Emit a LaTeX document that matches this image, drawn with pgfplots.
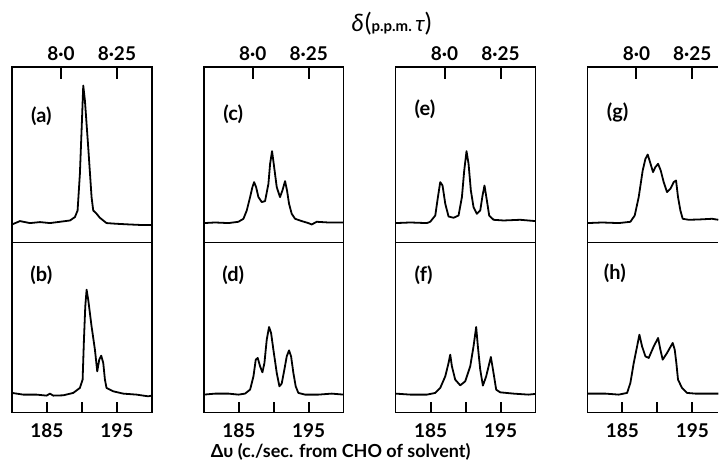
\documentclass[border=0pt]{standalone}
\usepackage{pgfplots}
\pgfplotsset{compat=1.18}
\usepackage{fontspec}
\setmainfont{Lato}
\tikzset{plab/.style={font=\fontsize{20}{22}\selectfont\bfseries},
  spec/.style={black, line width=1.8pt, line join=round, mark=none},
  tk/.style={black, line width=2pt}}
\pgfplotsset{
 panel/.style={scale only axis, width=140pt, xmin=180, xmax=200, ymin=0,
   ytick=\empty, axis line style={line width=1.4pt},
   tick style={line width=2pt, black}, major tick length=11pt,
   tick align=inside,
   tick label style={font=\fontsize{19}{21}\selectfont\bfseries}},
 upper/.style={panel, height=176pt, ymax=176, xtick={187,195},
   xticklabels={8·0,8·25}, xtick pos=top, xticklabel pos=top,
   xticklabel style={yshift=3pt}},
 lower/.style={panel, height=170pt, ymax=170, xtick={185,190,195},
   xticklabels={185,,195}, xtick pos=bottom, xticklabel pos=bottom,
   xticklabel style={yshift=-7pt}},
 cut/.style={width=131pt, xmax=198.71, axis y line*=left},
}
\begin{document}
\begin{tikzpicture}
\path (0,0) rectangle (719pt,464pt);
% ---------- column 1 ----------
\begin{axis}[upper, at={(12pt,221pt)}, anchor=south west]
\addplot[spec] coordinates {(180.0,18.3)(181.14,21.7)(182.57,19.7)(184.0,20.7)(185.43,19.7)(186.86,21.0)(188.29,22.3)(189.0,25.7)(189.38,32.3)(189.71,69)(189.95,112.3)(190.19,157.3)(190.43,142.3)(190.90,95.7)(191.38,45.7)(191.62,32.3)(192.10,29)(192.57,25)(193.52,19.7)(194.95,19)(196.86,18.3)(198.76,17.7)(200,17.7)};
\node[plab] at (rel axis cs:0.21,0.72) {(a)};
\end{axis}
\begin{axis}[lower, at={(12pt,51pt)}, anchor=south west]
\addplot[spec] coordinates {(180.0,19.7)(181.62,18)(183.52,18)(184.95,17)(185.43,19)(185.90,17)(187.33,17.3)(188.76,19.7)(189.71,24.7)(190.10,33)(190.29,73)(190.48,106.3)(190.67,123)(190.90,113)(191.38,86.3)(191.86,63)(192.19,41.3)(192.48,53)(192.76,57)(193.05,49.7)(193.29,33)(193.52,24.7)(194.48,21.3)(195.90,19)(197.81,18)(199.48,16.3)(200,17)};
\node[plab] at (rel axis cs:0.21,0.81) {(b)};
\end{axis}
% ---------- column 2 ----------
\begin{axis}[upper, at={(204pt,221pt)}, anchor=south west]
\addplot[spec] coordinates {(180.0,19.7)(181.62,20.3)(183.52,19.7)(184.95,21)(185.67,24)(186.14,32.3)(186.62,45.7)(186.95,55.7)(187.19,60.7)(187.48,55.7)(187.81,45.7)(188.29,40.7)(188.76,41.7)(189.24,59)(189.48,79)(189.76,91.7)(190.0,79)(190.43,55.7)(190.90,45.7)(191.24,52.3)(191.62,61.7)(191.90,52.3)(192.19,39)(192.57,29)(193.05,24)(194.0,21.7)(194.95,19.7)(195.43,18.3)(196.14,21)(197.81,20.3)(200,20.3)};
\node[plab] at (rel axis cs:0.21,0.73) {(c)};
\end{axis}
\begin{axis}[lower, at={(204pt,51pt)}, anchor=south west]
\addplot[spec] coordinates {(180.0,18)(181.62,19)(183.52,19)(184.95,18)(185.90,19)(186.62,23)(187.10,36.3)(187.43,53)(187.71,54.7)(188.05,46.3)(188.38,40.3)(188.67,49.7)(189.0,73)(189.33,85.7)(189.62,79.7)(189.95,63)(190.43,39.7)(190.81,26.3)(191.14,29)(191.52,43)(191.86,56.3)(192.19,62.3)(192.48,56.3)(192.81,39.7)(193.14,26.3)(193.52,19.7)(194.48,18)(196.38,18)(198.29,19)(200,18)};
\node[plab] at (rel axis cs:0.21,0.81) {(d)};
\end{axis}
% ---------- column 3 ----------
\begin{axis}[upper, at={(396pt,221pt)}, anchor=south west]
\addplot[spec] coordinates {(180.0,19.7)(182.10,20.3)(184.48,19.7)(184.95,21)(185.67,27.3)(186.05,45.7)(186.38,60.7)(186.71,57.3)(187.10,39)(187.57,26.3)(188.29,25)(189.0,27.3)(189.48,45.7)(189.81,72.3)(190.14,91.7)(190.43,79)(190.76,52.3)(191.14,35.7)(191.62,29)(192.10,32.3)(192.43,47.3)(192.71,57.3)(193.05,42.3)(193.38,27.3)(194.0,23)(195.43,22.3)(197.81,23)(200,21.7)};
\node[plab] at (rel axis cs:0.21,0.76) {(e)};
\end{axis}
\begin{axis}[lower, at={(396pt,51pt)}, anchor=south west]
\addplot[spec] coordinates {(180.0,19)(182.10,18)(184.48,18)(185.67,19.7)(186.38,24.7)(187.10,36.3)(187.57,49.7)(187.81,58)(188.05,46.3)(188.52,33)(189.24,27.3)(189.95,31.3)(190.67,46.3)(191.14,66.3)(191.52,85.7)(191.76,66.3)(192.10,43)(192.48,27)(192.95,36.3)(193.62,55.7)(194.0,39.7)(194.38,23)(194.95,20.3)(196.86,19)(199.0,18)(200,18.7)};
\node[plab] at (rel axis cs:0.2,0.81) {(f)};
\end{axis}
% ---------- column 4 (cut off at right edge) ----------
\begin{axis}[upper, cut, at={(588pt,221pt)}, anchor=south west]
\addplot[spec] coordinates {(180.0,19.7)(182.10,20.3)(184.48,19.7)(186.14,21)(186.76,27.3)(187.33,45.7)(187.90,72.3)(188.29,84)(188.62,88.3)(188.95,80.7)(189.38,70.7)(189.71,75.7)(190.10,79)(190.48,72.3)(190.90,60.7)(191.38,50.7)(191.86,54)(192.33,60.7)(192.67,62.3)(192.95,45.7)(193.29,32.3)(193.62,24)(194.48,23)(195.90,23.3)(197.81,24)(198.71,23)};
\node[plab] at (rel axis cs:0.23,0.74) {(g)};
\end{axis}
\begin{axis}[lower, cut, at={(588pt,51pt)}, anchor=south west]
\addplot[spec] coordinates {(180.0,19)(182.57,19)(184.48,18)(185.67,19.7)(186.14,29.7)(186.62,49.7)(187.10,66.3)(187.43,78)(187.81,66.3)(188.29,56.3)(188.76,54.7)(189.48,66.3)(190.10,74.7)(190.43,63)(190.76,53)(191.38,59.7)(192.19,69.7)(192.48,63)(192.71,49.7)(192.95,33)(193.52,24.7)(194.24,19.7)(195.43,19)(196.86,19)(198.71,19)};
\node[plab] at (rel axis cs:0.21,0.82) {(h)};
\end{axis}
% ---------- inward tick marks on the frames ----------
\foreach \c in {12,204,396,588} {
  \draw[tk] (\c pt+49pt,397pt) -- ++(0,-12pt);
  \draw[tk] (\c pt+105pt,397pt) -- ++(0,-12pt);
  \draw[tk] (\c pt+35pt,51pt) -- ++(0,11pt);
  \draw[tk] (\c pt+70pt,51pt) -- ++(0,11pt);
  \draw[tk] (\c pt+105pt,51pt) -- ++(0,11pt);
}
% ---------- axis titles ----------
\node[inner sep=0pt] at (392pt,440pt) {{\fontsize{24}{26}\selectfont\itshape δ}\kern1pt{\fontsize{25}{27}\selectfont(}{\fontsize{15}{17}\selectfont\bfseries p.p.m.\ }{\fontsize{22}{24}\selectfont\itshape τ}{\fontsize{25}{27}\selectfont)}};
\node[font=\fontsize{18}{20}\selectfont\bfseries] at (341pt,12pt) {Δυ (c./sec. from CHO of solvent)};
\end{tikzpicture}
\end{document}
